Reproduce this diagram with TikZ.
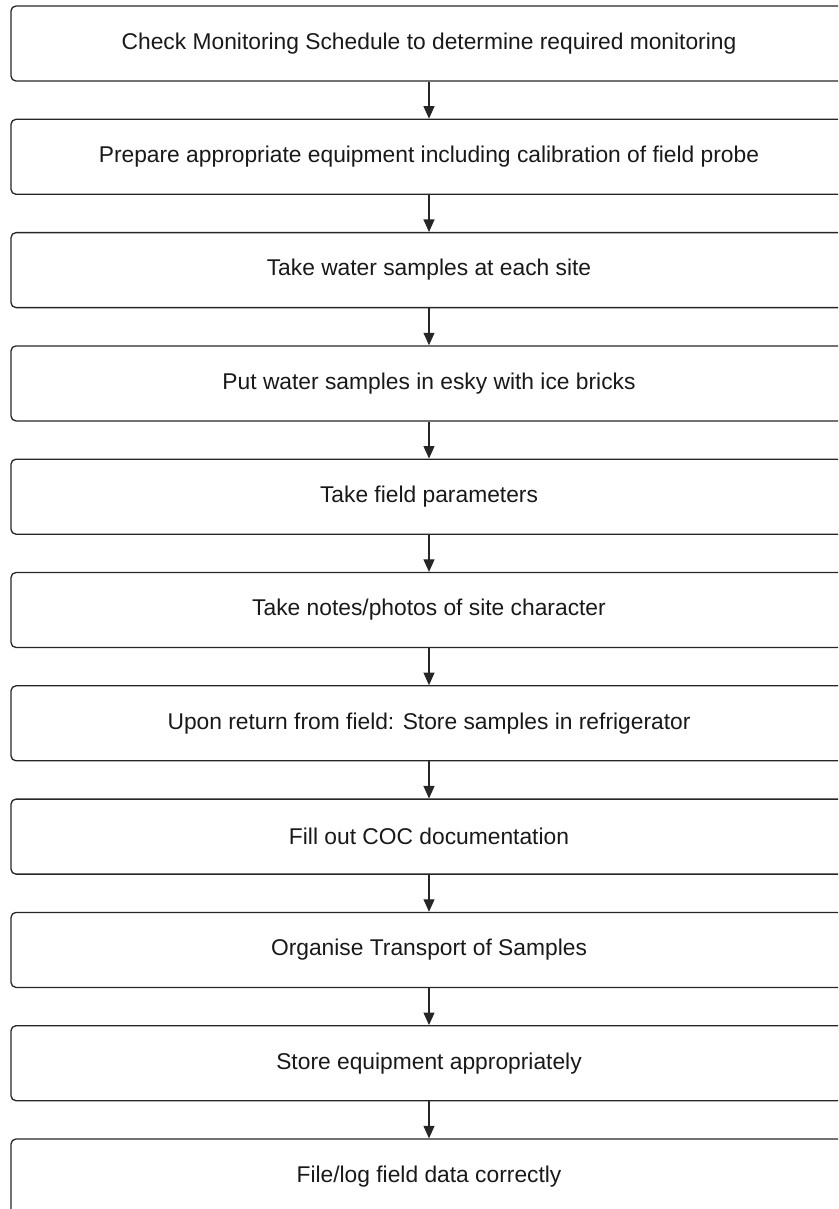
\documentclass[tikz,border=0pt]{standalone}
\usepackage{fontspec}
\setmainfont{Liberation Sans}
\usetikzlibrary{arrows.meta}
\begin{document}
\begin{tikzpicture}[x=1pt,y=-1pt,
  stepbox/.style={draw=black!85, line width=1.3pt, rounded corners=5pt,
    minimum width=836pt, minimum height=75pt, inner sep=0pt,
    font=\fontsize{22.8}{26}\selectfont, text=black!90},
  flow/.style={draw=black!85, line width=1.1pt, -{Triangle[length=12.5pt,width=11pt]}}]
\useasboundingbox (0,0) rectangle (838,1209);
\clip (0,0) rectangle (838,1209);
\node[stepbox] (b1)  at (429, 43.5) {Check Monitoring Schedule to determine required monitoring};
\node[stepbox] (b2)  at (429, 156.8) {Prepare appropriate equipment including calibration of field probe};
\node[stepbox] (b3)  at (429, 270.1) {Take water samples at each site};
\node[stepbox] (b4)  at (429, 383.4) {Put water samples in esky with ice bricks};
\node[stepbox] (b5)  at (429, 496.7) {Take field parameters};
\node[stepbox] (b6)  at (429, 610.0) {Take notes/photos of site character};
\node[stepbox] (b7)  at (429, 723.3) {Upon return from field: Store samples in refrigerator};
\node[stepbox] (b8)  at (429, 836.6) {Fill out COC documentation};
\node[stepbox] (b9)  at (429, 949.9) {Organise Transport of Samples};
\node[stepbox] (b10) at (429, 1063.2) {Store equipment appropriately};
\node[stepbox] (b11) at (429, 1176.5) {File/log field data correctly};
\foreach \a/\b in {b1/b2,b2/b3,b3/b4,b4/b5,b5/b6,b6/b7,b7/b8,b8/b9,b9/b10,b10/b11}
  \draw[flow] (\a.south) -- (\b.north);
\end{tikzpicture}
\end{document}
